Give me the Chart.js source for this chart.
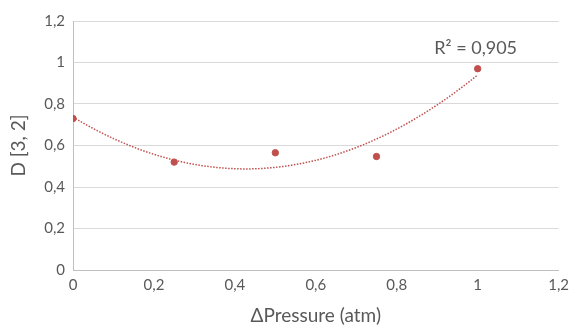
<!DOCTYPE html>
<html>
<head>
<meta charset="utf-8">
<script src="https://cdn.jsdelivr.net/npm/chart.js@4"></script>
<style>
  html, body { margin: 0; padding: 0; background: #fff; }
  #wrap { width: 575px; height: 326px; }
</style>
</head>
<body>
<div id="wrap"><canvas id="chart" width="575" height="326"></canvas></div>
<script>
const pressure = [0, 0.25, 0.5, 0.75, 1.0];
const d32 = [0.73, 0.52, 0.565, 0.547, 0.97];
const yTicks = [0, 0.2, 0.4, 0.6, 0.8, 1, 1.2];
const xTicks = [0, 0.2, 0.4, 0.6, 0.8, 1, 1.2];
const r2Label = 'R² = 0,905';

// 2nd order polynomial least squares, like the spreadsheet trendline
function polyFit(xs, ys) {
    let s = [0, 0, 0, 0, 0], t = [0, 0, 0];
    for (let i = 0; i < xs.length; i++) {
        for (let k = 0; k < 5; k++) s[k] += Math.pow(xs[i], k);
        for (let k = 0; k < 3; k++) t[k] += ys[i] * Math.pow(xs[i], k);
    }
    const m = [[s[0], s[1], s[2], t[0]], [s[1], s[2], s[3], t[1]], [s[2], s[3], s[4], t[2]]];
    for (let i = 0; i < 3; i++) {
        for (let j = i + 1; j < 3; j++) {
            const f = m[j][i] / m[i][i];
            for (let k = i; k < 4; k++) m[j][k] -= f * m[i][k];
        }
    }
    const c = [0, 0, 0];
    for (let i = 2; i >= 0; i--) {
        let v = m[i][3];
        for (let k = i + 1; k < 3; k++) v -= m[i][k] * c[k];
        c[i] = v / m[i][i];
    }
    return c;
}

const coef = polyFit(pressure, d32);
const trend = [];
for (let i = 0; i <= 50; i++) {
    const x = pressure[0] + (pressure[pressure.length - 1] - pressure[0]) * i / 50;
    trend.push({x: x, y: coef[0] + coef[1] * x + coef[2] * x * x});
}

const fmt = v => Number(v.toFixed(1)).toString().replace('.', ',');
const grey = '#595959';
const font = 'Lato, "Open Sans", sans-serif';

const r2Plugin = {
    id: 'r2',
    afterDatasetsDraw(chart) {
        const c = chart.ctx;
        const xs = chart.scales.x, ys = chart.scales.y;
        c.save();
        c.fillStyle = grey;
        c.font = '18px ' + font;
        c.textAlign = 'center';
        c.textBaseline = 'middle';
        c.fillText(r2Label, xs.getPixelForValue(0.995), ys.getPixelForValue(1.07));
        c.restore();
    }
};

new Chart(document.getElementById('chart'), {
    type: 'scatter',
    data: {
        datasets: [{
            label: 'D [3, 2]',
            data: pressure.map((p, i) => ({x: p, y: d32[i]})),
            backgroundColor: '#C0504D',
            borderColor: '#C0504D',
            pointRadius: 3.2,
            order: 1
        }, {
            label: 'trend',
            type: 'line',
            data: trend,
            borderColor: '#C0504D',
            borderWidth: 1.5,
            borderDash: [1.5, 1.5],
            pointRadius: 0,
            fill: false,
            tension: 0,
            order: 2
        }]
    },
    options: {
        responsive: false,
        animation: false,
        layout: {padding: {top: 21, right: 12, left: 0, bottom: 0}},
        plugins: {
            legend: {display: false},
            tooltip: {enabled: false}
        },
        scales: {
            x: {
                type: 'linear',
                min: 0, max: 1.2,
                afterBuildTicks: ax => { ax.ticks = xTicks.map(v => ({value: v})); },
                afterFit: ax => { ax.height = 56; },
                grid: {display: false, drawTicks: false},
                border: {display: true, color: '#BFBFBF', width: 1},
                ticks: {color: grey, font: {family: font, size: 15}, padding: 6, callback: v => fmt(v), maxRotation: 0},
                title: {display: true, text: 'ΔPressure (atm)', color: grey, font: {family: font, size: 19, lineHeight: 1.1}, padding: {top: 0, bottom: 0}}
            },
            y: {
                min: 0, max: 1.2,
                afterBuildTicks: ax => { ax.ticks = yTicks.map(v => ({value: v})); },
                afterFit: ax => { ax.width = 73; },
                grid: {color: '#D9D9D9', lineWidth: 1, drawTicks: false},
                border: {display: true, color: '#BFBFBF', width: 1},
                ticks: {color: grey, font: {family: font, size: 15}, padding: 8, callback: v => fmt(v)},
                title: {display: true, text: 'D [3, 2]', color: grey, font: {family: font, size: 19, lineHeight: 1.1}, padding: {top: 8, bottom: 0}}
            }
        }
    },
    plugins: [r2Plugin]
});
</script>
</body>
</html>
